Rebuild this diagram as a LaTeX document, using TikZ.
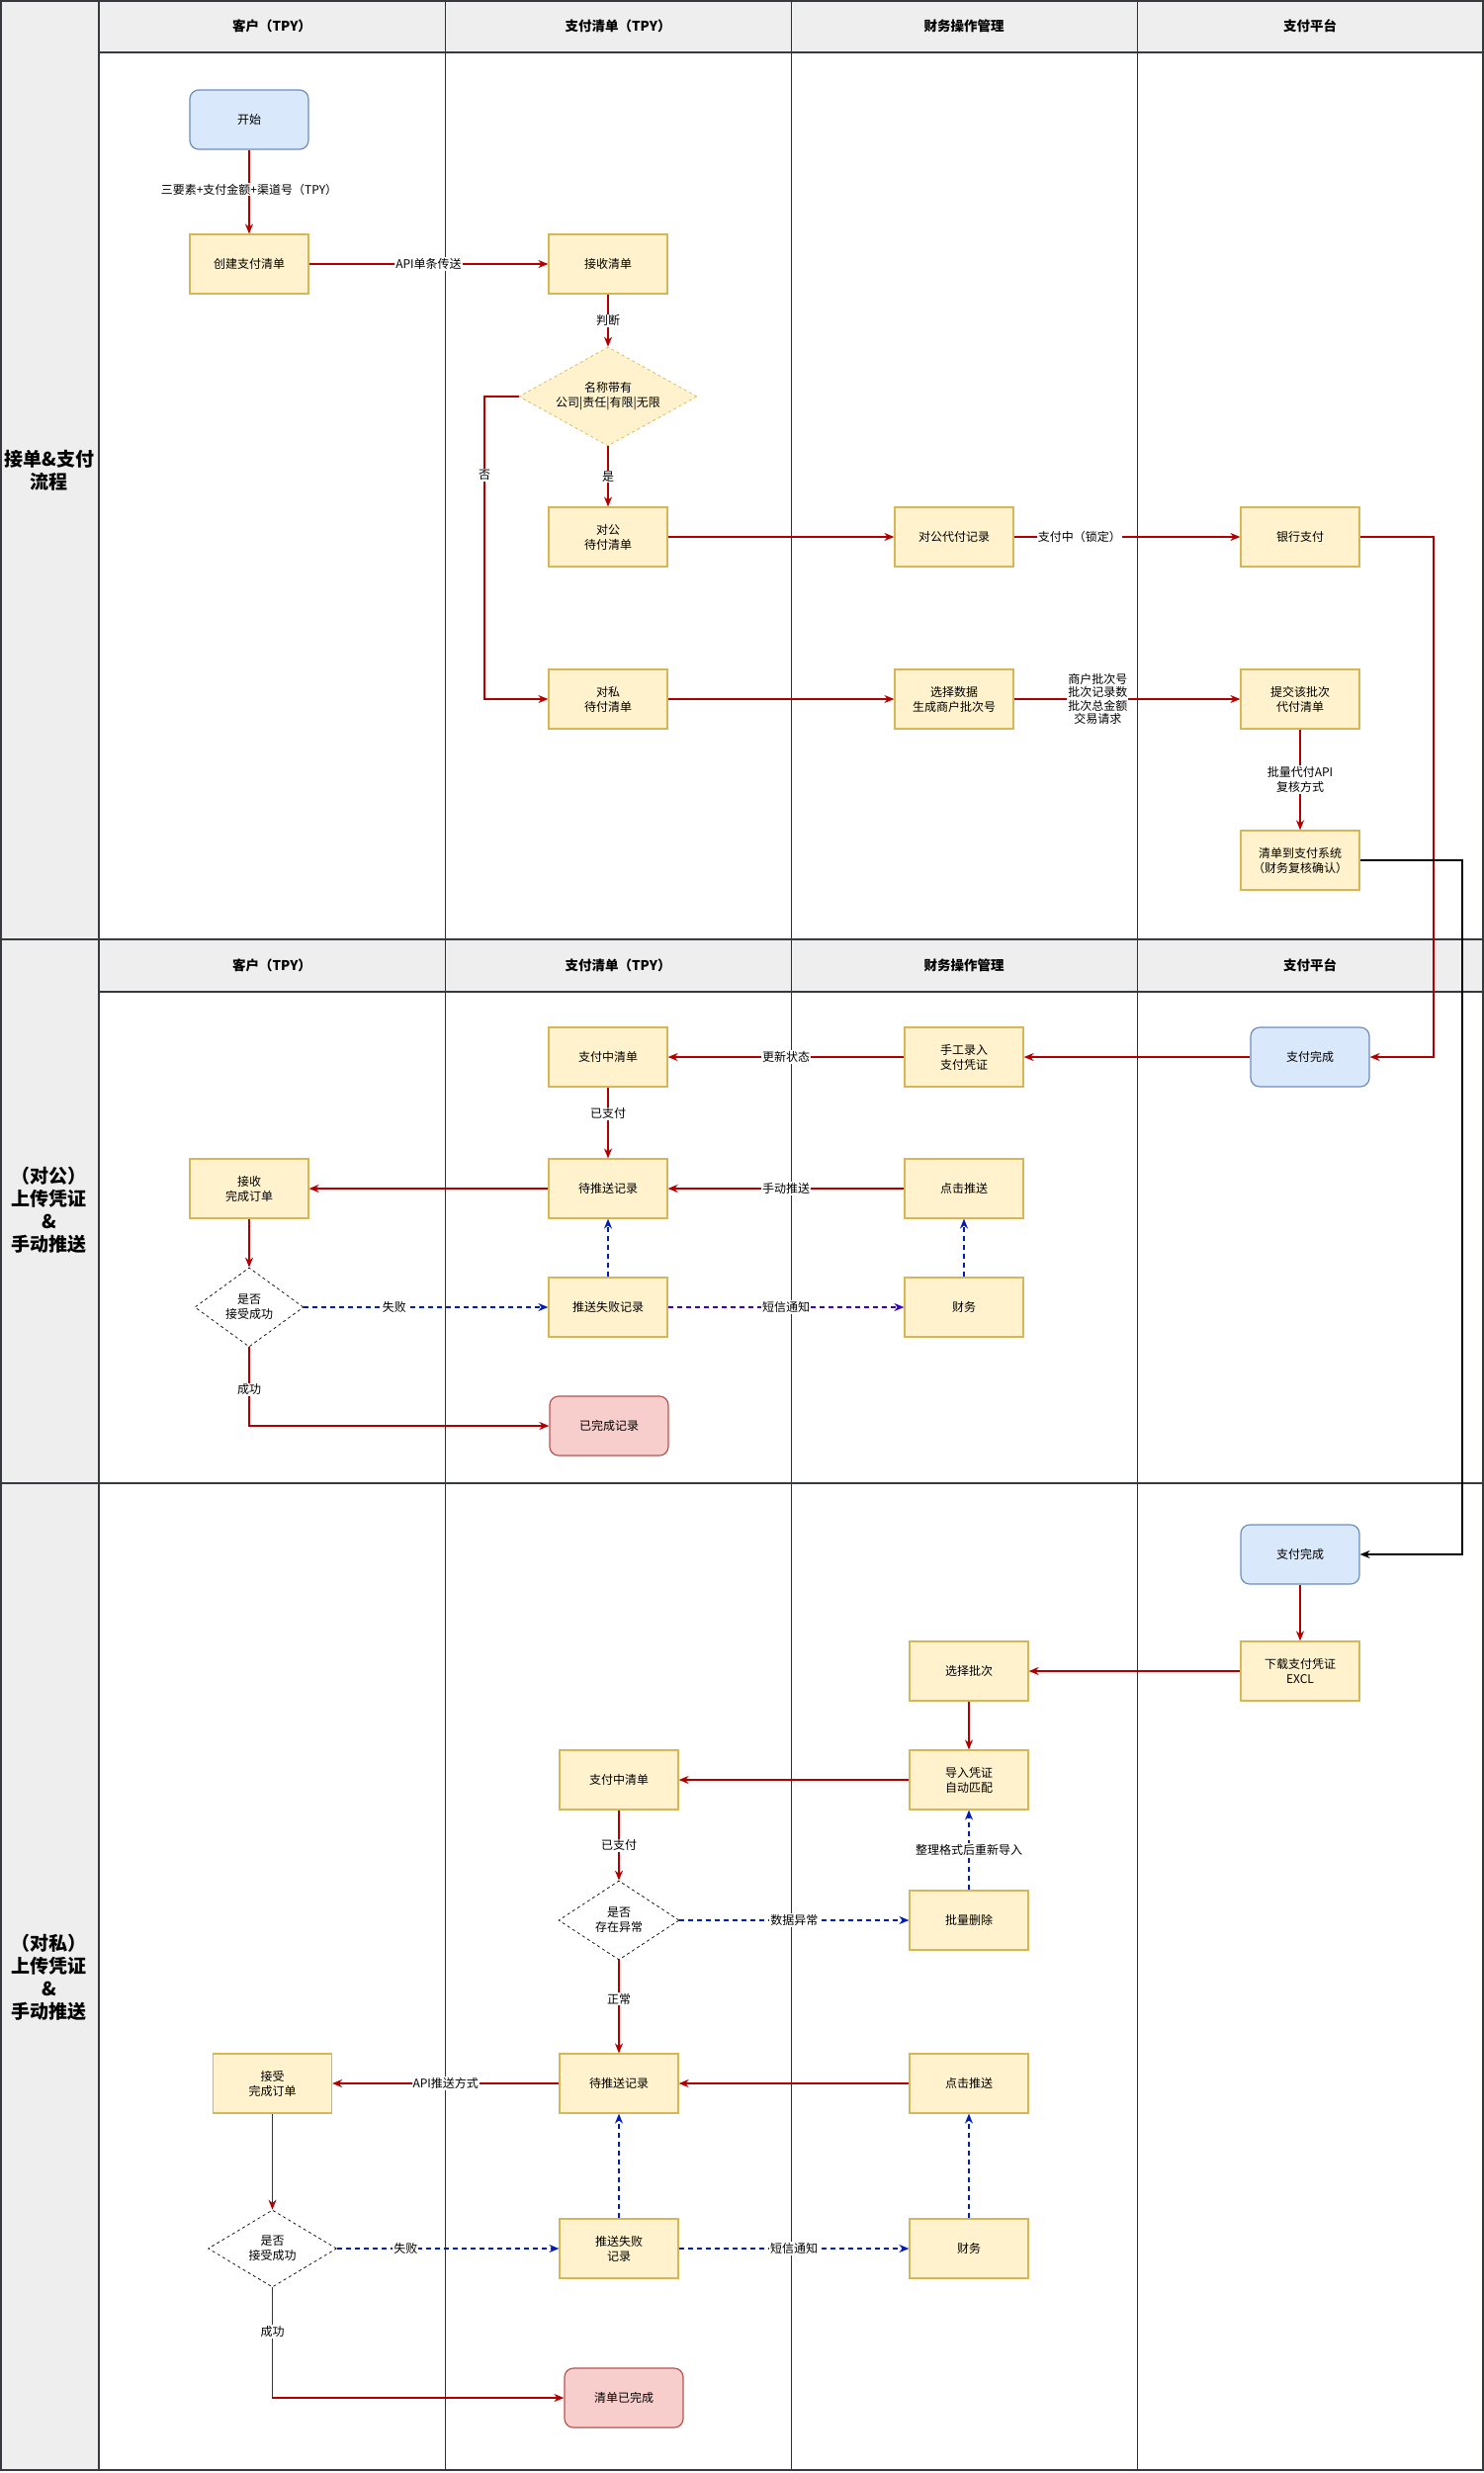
\documentclass[tikz,border=0pt]{standalone}
\usepackage{fontspec}
\setmainfont{Noto Sans CJK SC}
\usetikzlibrary{arrows.meta,shapes.geometric}

\definecolor{boxfill}{HTML}{FFF2CC}
\definecolor{boxline}{HTML}{D6B656}
\definecolor{bluefill}{HTML}{DAE8FC}
\definecolor{blueline}{HTML}{6C8EBF}
\definecolor{pinkfill}{HTML}{F8CECC}
\definecolor{pinkline}{HTML}{B85450}
\definecolor{flowred}{HTML}{B20000}
\definecolor{flowblue}{HTML}{001DBC}
\definecolor{flowviolet}{HTML}{3700CC}
\definecolor{lanegrey}{HTML}{EEEEEE}
\definecolor{laneline}{HTML}{36393D}

\begin{document}
\begin{tikzpicture}[x=1pt,y=-1pt,
  txt/.style={font=\fontsize{12}{15}\selectfont},
  box/.style={txt,draw=boxline,fill=boxfill,line width=1.2pt,minimum width=120pt,
    minimum height=60pt,inner sep=1pt,align=center},
  startbox/.style={box,draw=blueline,fill=bluefill,rounded corners=9pt},
  endbox/.style={box,draw=pinkline,fill=pinkfill,rounded corners=9pt},
  decision/.style={txt,diamond,draw=black,dashed,line width=0.7pt,fill=white,inner sep=0pt,align=center},
  decyellow/.style={decision,draw=boxline,fill=boxfill},
  lab/.style={txt,fill=white,inner sep=1pt,align=center},
  tip/.style={-{Stealth[length=10pt,width=8pt]}},
  redflow/.style={tip,draw=flowred,line width=1.6pt},
  blueflow/.style={tip,draw=flowblue,line width=1.6pt,dash pattern=on 5pt off 4pt},
  violetflow/.style={tip,draw=flowviolet,line width=1.6pt,dash pattern=on 5pt off 4pt},
  blackflow/.style={tip,draw=black,line width=1.2pt},
  lanehead/.style={font=\fontsize{13.5}{16}\selectfont\bfseries},
  poolname/.style={font=\fontsize{19}{23}\selectfont\bfseries,align=center},
  poolframe/.style={draw=laneline,line width=1.5pt},
  lanesep/.style={draw=laneline!85!black,line width=1pt}
]
\useasboundingbox (0,0) rectangle (1501,2501);
\fill[white] (0,0) rectangle (1501,2501);

% ---------- pool frames, name column, lane headers ----------
\fill[lanegrey] (0,0) rectangle (100,2498);
\fill[lanegrey] (100,0) rectangle (1500,53);
\fill[lanegrey] (100,950) rectangle (1500,1003);
\foreach \x in {450,800,1150} {
  \draw[lanesep] (\x,0) -- (\x,950);
  \draw[lanesep] (\x,950) -- (\x,1500);
  \draw[lanesep] (\x,1500) -- (\x,2498);
}
\draw[poolframe] (100,53) -- (1500,53);
\draw[poolframe] (100,1003) -- (1500,1003);
\draw[poolframe] (0.75,0.75) rectangle (1500,950);
\draw[poolframe] (0.75,950) rectangle (1500,1500);
\draw[poolframe] (0.75,1500) rectangle (1500,2498);
\draw[poolframe] (100,0) -- (100,2498);

\node[lanehead] (h1a) at (275,26.5) {客户（TPY）};
\node[lanehead] (h1b) at (625,26.5) {支付清单（TPY）};
\node[lanehead] (h1c) at (975,26.5) {财务操作管理};
\node[lanehead] (h1d) at (1325,26.5) {支付平台};
\node[lanehead] (h2a) at (275,976.5) {客户（TPY）};
\node[lanehead] (h2b) at (625,976.5) {支付清单（TPY）};
\node[lanehead] (h2c) at (975,976.5) {财务操作管理};
\node[lanehead] (h2d) at (1325,976.5) {支付平台};

\node[poolname] (pool1name) at (50,476) {接单\&支付\\流程};
\node[poolname] (pool2name) at (50,1224) {（对公）\\上传凭证\\\&\\手动推送};
\node[poolname] (pool3name) at (50,2000) {（对私）\\上传凭证\\\&\\手动推送};

% ---------- pool 1: order intake and payment ----------
\node[startbox] (p1start) at (252,121) {开始};
\node[box] (p1create) at (252,267) {创建支付清单};
\node[box] (p1recv) at (615,267) {接收清单};
\node[decyellow,minimum width=180pt,minimum height=100pt,aspect=1.8] (p1judge) at (615,401) {名称带有\\公司|责任|有限|无限};
\node[box] (p1pub) at (615,543) {对公\\待付清单};
\node[box] (p1pubrec) at (965,543) {对公代付记录};
\node[box] (p1bank) at (1315,543) {银行支付};
\node[box] (p1pri) at (615,707) {对私\\待付清单};
\node[box] (p1batch) at (965,707) {选择数据\\生成商户批次号};
\node[box] (p1submit) at (1315,707) {提交该批次\\代付清单};
\node[box] (p1sys) at (1315,870) {清单到支付系统\\（财务复核确认）};

\coordinate (p1nobend) at (490,707);
\coordinate (p1bankturn) at (1450,543);
\coordinate (p1systurn) at (1479,870);

\draw[redflow] (p1start) -- node[lab,pos=0.47] {三要素+支付金额+渠道号（TPY）} (p1create);
\draw[redflow] (p1create) -- node[lab] {API单条传送} (p1recv);
\draw[redflow] (p1recv) -- node[lab] {判断} (p1judge);
\draw[redflow] (p1judge) -- node[lab] {是} (p1pub);
\draw[redflow] (p1judge.west) -| node[lab,pos=0.63] {否} (p1nobend) -- (p1pri.west);
\draw[redflow] (p1pub) -- (p1pubrec);
\draw[redflow] (p1pubrec) -- node[lab,pos=0.29] {支付中（锁定）} (p1bank);
\draw[redflow] (p1pri) -- (p1batch);
\draw[redflow] (p1batch) -- node[lab,pos=0.37,font=\fontsize{12}{13.5}\selectfont] {商户批次号\\批次记录数\\批次总金额\\交易请求} (p1submit);
\draw[redflow] (p1submit) -- node[lab] {批量代付API\\复核方式} (p1sys);

% ---------- pool 2: corporate voucher upload and push ----------
\node[startbox] (p2done) at (1325,1069) {支付完成};
\node[box] (p2manual) at (975,1069) {手工录入\\支付凭证};
\node[box] (p2paying) at (615,1069) {支付中清单};
\node[box] (p2wait) at (615,1202) {待推送记录};
\node[box] (p2recv) at (252,1202) {接收\\完成订单};
\node[box] (p2click) at (975,1202) {点击推送};
\node[decision,minimum width=110pt,minimum height=80pt,aspect=1.375] (p2ok) at (252,1322) {是否\\接受成功};
\node[box] (p2fail) at (615,1322) {推送失败记录};
\node[box] (p2fin) at (975,1322) {财务};
\node[endbox] (p2end) at (616,1442) {已完成记录};

\draw[redflow] (p1bank.east) -- (p1bankturn) |- (p2done.east);
\draw[redflow] (p2done) -- (p2manual);
\draw[redflow] (p2manual) -- node[lab] {更新状态} (p2paying);
\draw[redflow] (p2paying) -- node[lab,pos=0.37] {已支付} (p2wait);
\draw[redflow] (p2wait) -- (p2recv);
\draw[redflow] (p2click) -- node[lab] {手动推送} (p2wait);
\draw[redflow] (p2recv) -- (p2ok);
\draw[blueflow] (p2ok) -- node[lab,pos=0.37] {失败} (p2fail);
\draw[blueflow] (p2fail) -- (p2wait);
\draw[violetflow] (p2fail) -- node[lab] {短信通知} (p2fin);
\draw[blueflow] (p2fin) -- (p2click);
\draw[redflow] (p2ok.south) |- node[lab,pos=0.27] {成功} (p2end.west);

% ---------- pool 3: private voucher upload and push ----------
\node[startbox] (p3done) at (1315,1572) {支付完成};
\node[box] (p3down) at (1315,1690) {下载支付凭证\\EXCL};
\node[box] (p3pick) at (980,1690) {选择批次};
\node[box] (p3import) at (980,1800) {导入凭证\\自动匹配};
\node[box] (p3paying) at (626,1800) {支付中清单};
\node[decision,minimum width=122pt,minimum height=80pt,aspect=1.5] (p3chk) at (626,1942) {是否\\存在异常};
\node[box] (p3del) at (980,1942) {批量删除};
\node[box] (p3wait) at (626,2107) {待推送记录};
\node[box] (p3recv) at (275.5,2107) {接受\\完成订单};
\node[box] (p3click) at (980,2107) {点击推送};
\node[decision,minimum width=130pt,minimum height=78pt,aspect=1.6] (p3ok) at (275.5,2274) {是否\\接受成功};
\node[box] (p3fail) at (626,2274) {推送失败\\记录};
\node[box] (p3fin) at (980,2274) {财务};
\node[endbox] (p3end) at (631,2425) {清单已完成};

\draw[blackflow] (p1sys.east) -- (p1systurn) |- (p3done.east);
\draw[redflow] (p3done) -- (p3down);
\draw[redflow] (p3down) -- (p3pick);
\draw[redflow] (p3pick) -- (p3import);
\draw[redflow] (p3import) -- (p3paying);
\draw[redflow] (p3paying) -- node[lab] {已支付} (p3chk);
\draw[blueflow] (p3chk) -- node[lab] {数据异常} (p3del);
\draw[blueflow] (p3del) -- node[lab] {整理格式后重新导入} (p3import);
\draw[redflow] (p3chk) -- node[lab,pos=0.42] {正常} (p3wait);
\draw[redflow] (p3wait) -- node[lab] {API推送方式} (p3recv);
\draw[redflow] (p3click) -- (p3wait);
\draw[redflow] (p3recv) -- (p3ok);
\draw[blueflow] (p3ok) -- node[lab,pos=0.31] {失败} (p3fail);
\draw[blueflow] (p3fail) -- (p3wait);
\draw[blueflow] (p3fail) -- node[lab] {短信通知} (p3fin);
\draw[blueflow] (p3fin) -- (p3click);
\draw[redflow] (p3ok.south) |- node[lab,pos=0.2] {成功} (p3end.west);
\end{tikzpicture}
\end{document}
